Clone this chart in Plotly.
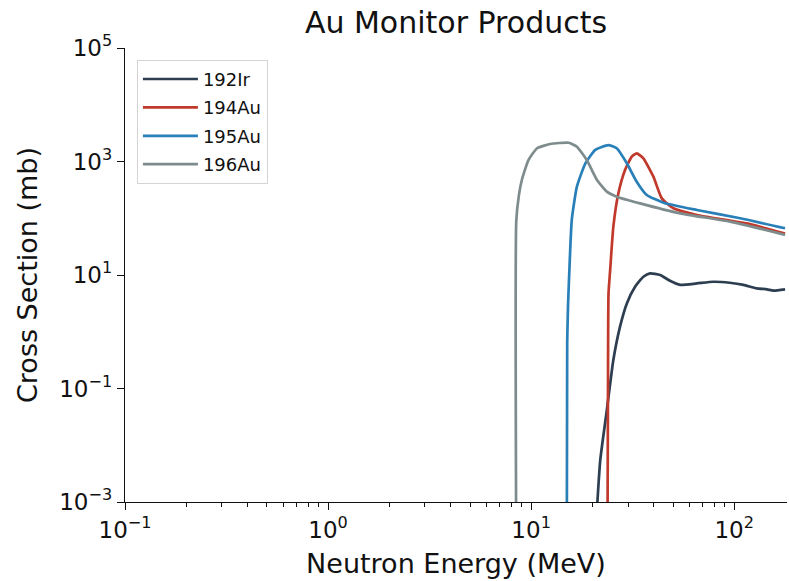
import plotly.graph_objects as go

# Data
e_192ir = [21.2, 21.9, 23.6, 25.4, 27.4, 29.6, 32.5, 35.7, 38.5, 43.2, 48.0, 54.2, 65.5, 79.0, 95.0, 111.0, 129.0, 145.0, 156.0, 178.0]
s_192ir = [1e-3, 0.0055, 0.042, 0.318, 1.23, 3.16, 6.2, 9.3, 10.7, 10.0, 8.0, 6.7, 7.1, 7.6, 7.3, 6.7, 5.8, 5.6, 5.3, 5.6]

e_194au = [23.8, 23.9, 24.05, 24.5, 25.4, 26.9, 29.0, 31.3, 33.1, 35.7, 40.0, 44.0, 50.2, 65.5, 115.0, 178.0]
s_194au = [1e-3, 0.1, 4.75, 12.2, 71, 275, 709, 1216, 1393, 1137, 540, 224, 150, 114, 81, 54]

e_195au = [15.0, 15.05, 15.2, 15.5, 15.85, 16.8, 18.5, 20.7, 24.0, 26.4, 29.6, 33.1, 37.1, 44.9, 65.5, 107.0, 178.0]
s_195au = [1e-3, 0.63, 3.0, 18.4, 93, 360, 930, 1600, 1950, 1710, 930, 441, 257, 188, 140, 100, 66.5]

e_196au = [8.43, 8.45, 8.7, 9.0, 9.7, 10.7, 12.4, 15.3, 16.8, 18.8, 21.1, 23.6, 26.4, 34.4, 54.2, 95.5, 178.0]
s_196au = [1e-3, 90, 250, 472, 1060, 1710, 2030, 2140, 1820, 1060, 472, 294, 240, 183, 122, 87, 51]

x_ticks = [0.1, 1, 10, 100]
x_ticktext = ["10<sup>−1</sup>", "10<sup>0</sup>", "10<sup>1</sup>", "10<sup>2</sup>"]
y_ticks = [1e-3, 1e-1, 1e1, 1e3, 1e5]
y_ticktext = ["10<sup>−3</sup>", "10<sup>−1</sup>", "10<sup>1</sup>", "10<sup>3</sup>", "10<sup>5</sup>"]

series = [
    ("192Ir", e_192ir, s_192ir, "#2c3e50"),
    ("194Au", e_194au, s_194au, "#c0392b"),
    ("195Au", e_195au, s_195au, "#2980b9"),
    ("196Au", e_196au, s_196au, "#7f8c8d"),
]

fig = go.Figure()
for name, x, y, c in series:
    fig.add_trace(go.Scatter(x=x, y=y, mode="lines", name=name, legendgroup=name,
                             line=dict(color=c, width=2.7, shape="spline", smoothing=0.5)))

minor_x = [m * 10 ** d for d in (-1, 0, 1, 2) for m in range(2, 10) if m * 10 ** d < 185]

BLACK = "#111"
fig.update_layout(
    width=789, height=581,
    margin=dict(l=125, r=2, t=48, b=79),
    paper_bgcolor="white", plot_bgcolor="white",
    font=dict(family="DejaVu Sans", color=BLACK),
    title=dict(text="Au Monitor Products", x=0.5, xref="paper", xanchor="center",
               y=0.962, yref="container", yanchor="middle", font=dict(size=30, color=BLACK)),
    showlegend=True,
    legend=dict(x=0.018, y=0.974, xanchor="left", yanchor="top",
                bgcolor="white", bordercolor="#d4d4d4", borderwidth=1,
                font=dict(size=18, color=BLACK), itemwidth=55, tracegroupgap=2,
                traceorder="grouped"),
)
fig.update_xaxes(type="log", range=[-1, 2.26], showgrid=False, zeroline=False,
                 showline=True, linecolor=BLACK, linewidth=1.3,
                 ticks="outside", ticklen=7, tickwidth=1.3, tickcolor=BLACK,
                 tickvals=x_ticks, ticktext=x_ticktext, tickfont=dict(size=23, color=BLACK),
                 minor=dict(tickvals=minor_x, ticks="outside", ticklen=4, tickwidth=1, tickcolor=BLACK, showgrid=False),
                 title=dict(text="Neutron Energy (MeV)", font=dict(size=27, color=BLACK), standoff=12))
fig.update_yaxes(type="log", range=[-3, 5], showgrid=False, zeroline=False,
                 showline=True, linecolor=BLACK, linewidth=1.3,
                 ticks="outside", ticklen=7, tickwidth=1.3, tickcolor=BLACK,
                 tickvals=y_ticks, ticktext=y_ticktext, tickfont=dict(size=23, color=BLACK),
                 title=dict(text="Cross Section (mb)", font=dict(size=27, color=BLACK), standoff=13))

fig.write_html("out.html", config={"displayModeBar": False},
               post_script="document.body.style.margin='0';")
